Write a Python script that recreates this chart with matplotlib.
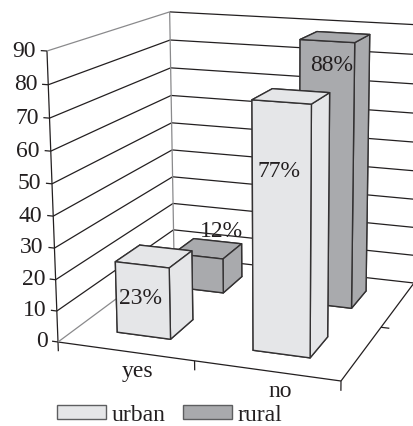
import numpy as np
import matplotlib
matplotlib.use("Agg")
import matplotlib.pyplot as plt
from matplotlib.patches import Patch
from mpl_toolkits.mplot3d.art3d import Line3DCollection

# ---- data -------------------------------------------------------------
categories = ["yes", "no"]
series_names = ["urban", "rural"]
urban_values = [23, 77]
rural_values = [12, 88]
z_ticks = [0, 10, 20, 30, 40, 50, 60, 70, 80, 90]

# ---- style ------------------------------------------------------------
INK = "#231f20"
GREY = "#8a8a8c"
URBAN = "#e5e6e8"
RURAL = "#a9aaad"
FS = 17
BAR_W = 0.40
BAR_D = 0.40
# placement of the percentage labels: (shift along x, height)
URBAN_LABEL_AT = [(-0.015, 12.5), (-0.015, 56.5)]
RURAL_LABEL_AT = [(0.19, 22), (0.03, 80.5)]
plt.rcParams["font.family"] = ["Liberation Serif", "DejaVu Serif"]

fig = plt.figure(figsize=(4.14, 4.27), dpi=100)
ax = fig.add_axes([0, 0, 1, 1], projection="3d")
ax.set_axis_off()
ax.computed_zorder = False
ax.set_xlim(0, 2)
ax.set_ylim(0, 2)
ax.set_zlim(0, 90)
ax.set_xticks([])
ax.set_yticks([])
ax.set_zticks([])

# ---- camera: floor corners, vertical vanishing point, axis top (image px)
floor_world = [(0, 0), (2, 0), (0, 2), (2, 2)]
floor_image = [(58, 343), (341, 382), (174, 257), (414, 284)]
vanish = np.array([280.0, 6200.0, 1.0])
axis_top_v = 52.0
rows = []
for (X, Y), (u, v) in zip(floor_world, floor_image):
    h = [X, Y, 1]
    rows.append(h + [0, 0, 0] + [-u * c for c in h])
    rows.append([0, 0, 0] + h + [-v * c for c in h])
F = np.linalg.svd(np.array(rows))[2][-1].reshape(3, 3)
if F[2, 2] < 0:
    F = -F
lam = (axis_top_v * F[2, 2] - F[1, 2]) / (90 * (vanish[1] - axis_top_v))
P = np.column_stack([F[:, 0], F[:, 1], lam * vanish, F[:, 2]])
W, H = fig.get_size_inches() * fig.dpi


def camera():
    T_inv = np.linalg.inv(ax.transData.get_matrix())
    flip = np.array([[1, 0, 0], [0, -1, H], [0, 0, 1]], float)
    Q = T_inv @ flip @ P
    depth = Q[2]
    c = 0.5 * depth @ np.array([1, 1, 45, 1])
    return np.array([Q[0], Q[1], depth - np.array([0, 0, 0, c]), depth])


ax.get_proj = camera


def add_lines(segments, color, zorder=1):
    ax.add_collection3d(Line3DCollection(segments, colors=color, linewidths=0.9, zorder=zorder))


def label(x, y, z, text, ha="center"):
    """Text at a point of the 3D box, through the camera."""
    u, v, w = P @ np.array([x, y, z, 1.0])
    fig.text(u / w / W, 1 - v / w / H, text, ha=ha, va="center", fontsize=FS, color=INK)


# ---- box: walls, grid, axes -------------------------------------------
dark, grey = [], []
for z in z_ticks:
    (grey if z in (0, 90) else dark).append([(0, 0, z), (0, 2, z)])
    dark.append([(0, 2, z), (2, 2, z)])
    dark.append([(0, 0, z), (-0.045, 0, z)])
    label(-0.08, 0, z, str(z), ha="right")
dark.append([(0, 0, 0), (0, 0, 90)])
grey.append([(0, 2, 0), (0, 2, 90)])
dark.append([(0, 0, 0), (2, 0, 0)])
dark.append([(2, 0, 0), (2, 2, 0)])
for x in (0, 1, 2):
    dark.append([(x, 0, 0), (x, 0, -3)])
dark.append([(2, 1, 0), (2.06, 1, 0)])
add_lines(dark, INK)
add_lines(grey, GREY)

# ---- bars -------------------------------------------------------------
for s, (vals, col, label_at) in enumerate([(urban_values, URBAN, URBAN_LABEL_AT),
                                           (rural_values, RURAL, RURAL_LABEL_AT)]):
    y0 = s + 0.5 - BAR_D / 2
    for i, v in enumerate(vals):
        x0 = i + 0.5 - BAR_W / 2
        ax.bar3d(x0, y0, 0, BAR_W, BAR_D, v, color=col, edgecolor="#333132",
                 linewidth=1.0, shade=False, zorder=4 - s)
        dx, label_z = label_at[i]
        label(x0 + BAR_W / 2 + dx, y0, label_z, f"{v}%")

# ---- category labels --------------------------------------------------
for i, name in enumerate(categories):
    label(i + 0.59, 0, -5.5, name)

# ---- legend -----------------------------------------------------------
handles = [Patch(facecolor=URBAN, edgecolor="#5d5e60", lw=1.0),
           Patch(facecolor=RURAL, edgecolor="#5d5e60", lw=1.0)]
fig.legend(handles, series_names, loc="lower left", bbox_to_anchor=(57 / 414, 0.5 / 427),
           ncol=2, frameon=False, fontsize=FS, handlelength=2.07, handleheight=0.55,
           handletextpad=0.26, columnspacing=0.72, borderpad=0, borderaxespad=0,
           labelcolor=INK)

fig.savefig("out.png", dpi=100)
